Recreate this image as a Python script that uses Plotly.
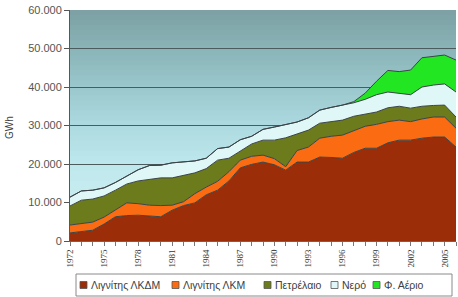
import plotly.graph_objects as go

years = list(range(1972, 2007))

lignite_lkdm = [2100, 2400, 2800, 4400, 6300, 6600, 6700, 6500, 6300, 8000,
                9200, 9900, 12000, 13200, 15600, 19000, 19900, 20500, 19800, 18400,
                20500, 20500, 21800, 21700, 21500, 23000, 24100, 24100, 25500, 26200,
                26200, 26700, 27000, 27000, 24400]
lignite_lkm = [2050, 2100, 2100, 1800, 1700, 3300, 3000, 2800, 2900, 1300,
               1000, 2400, 2000, 2300, 2400, 2000, 2100, 1800, 1600, 900,
               3000, 3900, 4900, 5500, 6000, 5700, 5700, 6200, 5500, 5200,
               4800, 5000, 5200, 5200, 4900]
oil = [4950, 6100, 6000, 5500, 5200, 4900, 5900, 6800, 7200, 7100,
       6800, 5400, 4800, 5500, 3500, 2400, 3200, 3900, 4800, 7500,
       4300, 4400, 3900, 3800, 3900, 3700, 3200, 3200, 3600, 3600,
       3500, 3300, 3000, 3100, 2900]
hydro = [2300, 2400, 2300, 2100, 2000, 2000, 2900, 3500, 3300, 3900,
         3600, 3100, 2700, 3000, 2900, 2900, 2000, 2800, 3400, 3500,
         3100, 3200, 3400, 3700, 3900, 3500, 3800, 4500, 4100, 3300,
         3500, 5000, 5300, 5500, 6500]
natural_gas = [0, 0, 0, 0, 0, 0, 0, 0, 0, 0,
               0, 0, 0, 0, 0, 0, 0, 0, 0, 0,
               0, 0, 0, 0, 0, 300, 1600, 3500, 5600, 5700,
               6400, 7600, 7500, 7500, 8300]

series_names = ["Λιγνίτης ΛΚΔΜ", "Λιγνίτης ΛΚΜ", "Πετρέλαιο", "Νερό", "Φ. Αέριο"]
series_values = [lignite_lkdm, lignite_lkm, oil, hydro, natural_gas]
series_colors = ["#9b2e08", "#fb6c12", "#6c7b1c", "#e0f7f7", "#22e622"]

x_tick_years = [1972, 1975, 1978, 1981, 1984, 1987, 1990, 1993, 1996, 1999, 2002, 2005]
y_tick_values = [0, 10000, 20000, 30000, 40000, 50000, 60000]
y_axis_title = "GWh"

W, H = 458, 297
ML, MR, MT, MB = 70, 2, 10, 56
PW, PH = W - ML - MR, H - MT - MB


def px(xp):
    return (xp - ML) / PW


def py(yp):
    return (H - MB - yp) / PH


fig = go.Figure()
for name, vals, col in zip(series_names, series_values, series_colors):
    fig.add_trace(go.Scatter(
        x=years, y=vals, name=name, mode="lines", stackgroup="one",
        line=dict(color="#3c4448", width=1), fillcolor=col, showlegend=False,
        hoverinfo="x+y+name"))

# background gradient bands (overlapping to avoid seams)
stops = [(0.0, (214, 243, 245)), (0.33, (190, 232, 237)), (0.5, (172, 218, 224)),
         (0.67, (153, 199, 204)), (0.83, (138, 180, 184)), (1.0, (124, 160, 163))]


def interp(t):
    for (t0, c0), (t1, c1) in zip(stops[:-1], stops[1:]):
        if t0 <= t <= t1:
            f = (t - t0) / (t1 - t0)
            return tuple(round(a + (b - a) * f) for a, b in zip(c0, c1))
    return stops[-1][1]


shapes = []
N = 46
for i in range(N):
    t = (i + 0.5) / N
    c = interp(t)
    shapes.append(dict(type="rect", xref="paper", yref="paper", x0=0, x1=1,
                       y0=i / N, y1=min(1.0, (i + 1.6) / N), layer="below",
                       line=dict(width=0), fillcolor="rgb(%d,%d,%d)" % c))

# legend (custom)
leg_y = 285
shapes.append(dict(type="rect", xref="paper", yref="paper", x0=px(76), x1=px(452),
                   y0=py(296), y1=py(274), line=dict(color="#8a8a8a", width=1),
                   fillcolor="white", layer="above"))
legend_sq_x = [80, 172, 264, 331, 373]
annotations = []
for name, col, sx in zip(series_names, series_colors, legend_sq_x):
    shapes.append(dict(type="rect", xref="paper", yref="paper", x0=px(sx), x1=px(sx + 7),
                       y0=py(leg_y + 3.5), y1=py(leg_y - 3.5),
                       line=dict(color="#555555", width=0.8), fillcolor=col, layer="above"))
    annotations.append(dict(text=name, xref="paper", yref="paper", x=px(sx + 9), y=py(leg_y),
                            xanchor="left", yanchor="middle", showarrow=False,
                            font=dict(family="Liberation Sans", size=10.5, color="#404040")))

annotations.append(dict(text=y_axis_title, xref="paper", yref="paper", x=px(9), y=py(128),
                        textangle=-90, showarrow=False, xanchor="center", yanchor="middle",
                        font=dict(family="Liberation Sans", size=10, color="#404040")))

fig.update_layout(
    width=W, height=H, margin=dict(l=ML, r=MR, t=MT, b=MB),
    paper_bgcolor="white", plot_bgcolor="rgba(0,0,0,0)",
    separators=",.",
    shapes=shapes, annotations=annotations, showlegend=False,
)
fig.update_xaxes(
    range=[1972, 2006], tickmode="array", tickvals=x_tick_years,
    ticktext=[str(y) for y in x_tick_years], tickangle=-90,
    tickfont=dict(family="Liberation Serif", size=9, color="#333333"),
    ticks="outside", ticklen=4, tickcolor="#777777",
    minor=dict(ticks="outside", dtick=1, tick0=1972, ticklen=4, tickcolor="#777777"),
    showgrid=False, zeroline=False, showline=True, linecolor="#666666",
)
fig.update_yaxes(
    range=[0, 60000], tickmode="array", tickvals=y_tick_values, tickformat=",d",
    tickfont=dict(family="Liberation Sans", size=11, color="#555555"),
    ticks="outside", ticklen=5, tickcolor="#555555",
    showgrid=True, gridcolor="#4b5b5e", gridwidth=1.2,
    zeroline=False, showline=True, linecolor="#4b5b5e",
)
fig.write_html("out.html", config={"displayModeBar": False},
               post_script="document.body.style.margin='0';document.body.style.overflow='hidden';")
